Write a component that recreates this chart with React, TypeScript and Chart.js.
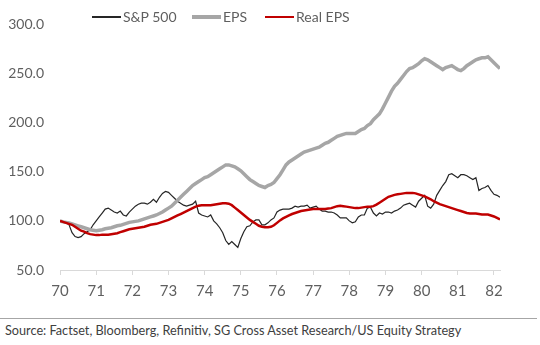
import React, { useEffect, useRef } from "react";
import { Chart, registerables } from "chart.js";

Chart.register(...registerables);

// Monthly data, Jan 1970 .. Mar 1982 (index 0 = Jan 1970), rebased to 100
const startYear = 70;
const sp500: number[] = [
  100, 99, 98, 96, 88, 84, 83, 84, 87, 89, 91, 96,
  100, 104, 108, 112, 113, 111, 109, 108, 110, 106, 105, 109,
  112, 115, 117, 118, 118, 117, 119, 122, 119, 124, 128, 130,
  129, 126, 123, 120, 118, 116, 115, 116, 117, 120, 108, 106,
  105, 104, 106, 100, 97, 93, 88, 80, 76, 79, 76, 73,
  82, 89, 94, 95, 99, 101, 101, 96, 96, 98, 101, 103,
  109, 111, 112, 112, 112, 113, 115, 114, 115, 115, 116, 113,
  114, 115, 112, 110, 110, 109, 109, 108, 106, 103, 103, 103,
  100, 98, 99, 104, 106, 106, 113, 114, 108, 105, 108, 107,
  109, 109, 108, 110, 111, 113, 116, 117, 118, 116, 114, 120,
  123, 126, 115, 113, 117, 126, 131, 136, 140, 147, 148, 146,
  144, 147, 147, 146, 144, 142, 144, 131, 133, 134, 136, 131,
  127, 126, 124,
];
const eps: number[] = [
  100, 99, 98.5, 98, 97, 96, 95, 94, 93, 92, 91, 90.5,
  90, 90.5, 91, 92, 92.5, 93, 94, 95, 95.5, 96.5, 97.5, 98.5,
  99, 99.5, 100, 101, 102, 103, 104, 105, 106, 107.5, 109, 111,
  113, 115, 118, 121, 124, 127, 130, 133, 136, 138, 140, 142,
  144, 145, 147, 149, 151, 153, 155, 157, 157, 156, 155, 153,
  151, 148, 145, 142, 140, 138, 136, 135, 134, 136, 137, 139,
  143, 147, 152, 157, 160, 162, 164, 166, 168, 170, 171, 172,
  173, 174, 175, 177, 179, 180, 182, 184, 186, 187, 188, 189,
  189, 189, 189, 191, 193, 194, 197, 199, 203, 206, 209, 214,
  220, 226, 232, 237, 240, 244, 248, 252, 255, 256, 258, 260,
  263, 265, 264, 262, 260, 258, 256, 254, 256, 257, 258, 256,
  254, 253, 255, 258, 260, 262, 264, 265, 266, 266, 267, 264,
  261, 258, 255,
];
const realEps: number[] = [
  100, 99, 98, 97, 96, 94, 92, 90, 89, 87.5, 86.5, 86,
  85.5, 85.5, 86, 86, 86, 86.5, 87, 87.5, 88.5, 89.5, 90.5, 91.5,
  92, 92.5, 93, 93.5, 94, 95, 96, 96.5, 97, 98, 99, 100,
  101, 102.5, 104, 105.5, 107, 108.5, 110, 111.5, 113, 114.5, 115.5, 116,
  116, 116, 116, 116.5, 117, 117.5, 118, 118, 117.5, 116, 113.5, 111,
  108.5, 106, 103.5, 101, 99, 97, 95, 94, 93.5, 93.5, 94, 95.5,
  98, 100.5, 102.5, 104, 105.5, 107, 108, 109, 110, 110.5, 111, 111.5,
  112, 112, 112, 112, 112, 112.5, 113, 114, 115, 115.5, 115, 114.5,
  114, 113.5, 113, 113, 113.5, 114, 114.5, 114.5, 115, 116.5, 118.5, 120.5,
  122.5, 124.5, 125.5, 126.5, 127, 127.5, 128, 128.5, 128.5, 128.5, 128, 127,
  126, 125, 123.5, 122, 120, 118.5, 117, 116, 115, 114, 113, 112,
  111, 110, 109, 108, 107.5, 107.5, 107.5, 107, 106.5, 106.5, 106.5, 105.5,
  104.5, 103, 101.5,
];
const yTicks: number[] = [50, 100, 150, 200, 250, 300];
const seriesNames: string[] = ["S&P 500", "EPS", "Real EPS"];
const sourceText = "Source: Factset, Bloomberg, Refinitiv, SG Cross Asset Research/US Equity Strategy";

const FONT = "Lato, 'Open Sans', sans-serif";
const TEXT_COLOR = "#5f5f5f";

const toPoints = (arr: number[]) => arr.map((v, i) => ({ x: startYear + i / 12, y: v }));

export default function App() {
  const ref = useRef<HTMLCanvasElement | null>(null);

  useEffect(() => {
    if (!ref.current) return;
    const chart = new Chart(ref.current, {
      type: "line",
      data: {
        datasets: [
          {
            label: seriesNames[0],
            data: toPoints(sp500),
            borderColor: "#262626",
            borderWidth: 1.2,
            pointRadius: 0,
            tension: 0,
            order: 3,
          },
          {
            label: seriesNames[1],
            data: toPoints(eps),
            borderColor: "#a6a6a6",
            borderWidth: 3.5,
            pointRadius: 0,
            tension: 0,
            order: 2,
          },
          {
            label: seriesNames[2],
            data: toPoints(realEps),
            borderColor: "#c00000",
            borderWidth: 2.5,
            pointRadius: 0,
            tension: 0,
            order: 1,
          },
        ],
      },
      options: {
        animation: false,
        responsive: false,
        maintainAspectRatio: false,
        layout: { padding: { left: 0, right: 40, top: 12, bottom: 0 } },
        plugins: { legend: { display: false }, tooltip: { enabled: false } },
        scales: {
          x: {
            type: "linear",
            min: startYear,
            max: startYear + (sp500.length - 1) / 12,
            afterFit: (s: any) => {
              s.height = 30;
            },
            grid: {
              display: true,
              drawOnChartArea: false,
              drawTicks: true,
              tickLength: 5,
              color: "#d9d9d9",
            },
            border: { display: true, color: "#d9d9d9", width: 1 },
            ticks: {
              stepSize: 1,
              includeBounds: false,
              autoSkip: false,
              maxRotation: 0,
              padding: 7,
              color: TEXT_COLOR,
              font: { family: FONT, size: 15 },
              callback: (v: any) => String(Math.round(Number(v))),
            },
          },
          y: {
            min: yTicks[0],
            max: yTicks[yTicks.length - 1],
            afterFit: (s: any) => {
              s.width = 60;
            },
            afterBuildTicks: (s: any) => {
              s.ticks = yTicks.map((v) => ({ value: v }));
            },
            grid: { display: false, drawTicks: false },
            border: { display: false },
            ticks: {
              padding: 16,
              color: TEXT_COLOR,
              font: { family: FONT, size: 14 },
              callback: (v: any) => Number(v).toFixed(1),
            },
          },
        },
      },
    });
    return () => chart.destroy();
  }, []);

  const legendItems = [
    { name: seriesNames[0], color: "#262626", w: 1.5, lineLeft: 92 },
    { name: seriesNames[1], color: "#a6a6a6", w: 3.5, lineLeft: 192 },
    { name: seriesNames[2], color: "#c00000", w: 2.5, lineLeft: 265 },
  ];

  return (
    <div
      style={{
        position: "fixed",
        left: 0,
        top: 0,
        width: 540,
        height: 345,
        background: "#ffffff",
        fontFamily: FONT,
        overflow: "hidden",
      }}
    >
      <canvas ref={ref} width={540} height={300} style={{ position: "absolute", left: 0, top: 0 }} />
      {legendItems.map((it) => (
        <div key={it.name}>
          <div
            style={{
              position: "absolute",
              left: it.lineLeft,
              top: 17 - it.w / 2,
              width: 29,
              height: it.w,
              background: it.color,
            }}
          />
          <div
            style={{
              position: "absolute",
              left: it.lineLeft + 31,
              top: 8,
              height: 18,
              lineHeight: "18px",
              fontSize: 14,
              color: TEXT_COLOR,
              whiteSpace: "nowrap",
            }}
          >
            {it.name}
          </div>
        </div>
      ))}
      <div
        style={{
          position: "absolute",
          left: 0,
          top: 318,
          width: 537,
          height: 1,
          background: "#a6a6a6",
        }}
      />
      <div
        style={{
          position: "absolute",
          left: 5,
          top: 321,
          height: 18,
          lineHeight: "18px",
          fontSize: 12.7,
          color: "#404040",
          whiteSpace: "nowrap",
        }}
      >
        {sourceText}
      </div>
    </div>
  );
}
